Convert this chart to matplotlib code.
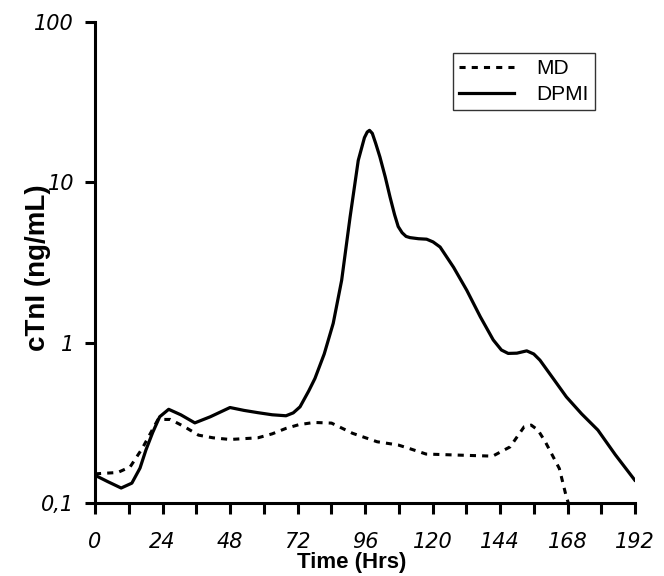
import matplotlib
matplotlib.use("Agg")
import matplotlib.pyplot as plt
from matplotlib.ticker import NullLocator, FixedLocator

# values (hours, ng/mL)
dpmi_hrs = [0, 4.5, 9.3, 13.1, 16, 18.1, 20.5, 23, 26.2, 30.5, 35.5, 41, 48, 53,
            57.9, 63, 67.9, 70.5, 72.9, 76, 78.2, 81.5, 84.7, 87.7, 90.7, 93.6,
            95.8, 96.8, 97.6, 98.6, 99.8, 101.3, 103.2, 104.9, 106.5, 107.8, 109.2,
            110.6, 112, 115, 117.9, 120.2, 122.7, 127.5, 132.2, 137, 141.6, 144.5,
            146.9, 150, 153.5, 156, 158.2, 162.9, 167.6, 173, 178.8, 185, 191.9]
dpmi_val = [0.149, 0.136, 0.124, 0.133, 0.165, 0.214, 0.275, 0.345, 0.384, 0.355,
            0.316, 0.345, 0.394, 0.378, 0.366, 0.355, 0.35, 0.365, 0.398, 0.5,
            0.598, 0.85, 1.32, 2.45, 6.08, 13.7, 19.0, 20.6, 21.1, 20.2, 17.5, 14.4,
            10.8, 8.1, 6.3, 5.3, 4.85, 4.6, 4.52, 4.45, 4.42, 4.25, 3.95, 2.95,
            2.12, 1.45, 1.04, 0.9, 0.857, 0.86, 0.889, 0.85, 0.778, 0.598, 0.459,
            0.36, 0.285, 0.2, 0.139]

md_hrs = [0, 8.1, 12.5, 16.8, 22.4, 26.8, 31.8, 36.8, 42, 48, 57.9, 63, 67.9,
          72.5, 77.9, 84.1, 91.6, 100.3, 107.8, 112, 117.7, 129, 141.4, 147.6,
          150.5, 152.6, 155.1, 157.5, 160.1, 165.1, 167.6, 168.3]
md_val = [0.152, 0.155, 0.168, 0.219, 0.332, 0.332, 0.299, 0.265, 0.255, 0.249,
          0.255, 0.27, 0.292, 0.308, 0.318, 0.315, 0.272, 0.241, 0.23, 0.218,
          0.202, 0.199, 0.196, 0.224, 0.265, 0.299, 0.306, 0.285, 0.241, 0.164,
          0.109, 0.1]

x_ticks = list(range(0, 193, 12))
x_labels = [str(t) if t % 24 == 0 else "" for t in x_ticks]
y_ticks = [0.1, 1, 10, 100]
y_labels = ["0,1", "1", "10", "100"]

fig = plt.figure(figsize=(6.64, 5.76), dpi=100)
ax = fig.add_axes([95/664, 1 - 503/576, 540/664, 481/576])

ax.plot(md_hrs, md_val, color="black", lw=2.2, linestyle=(0, (2.0, 2.0)), label="MD")
ax.plot(dpmi_hrs, dpmi_val, color="black", lw=2.3, label="DPMI")

ax.set_yscale("log")
ax.set_ylim(0.1, 100)
ax.set_xlim(0, 192)

ax.yaxis.set_major_locator(FixedLocator(y_ticks))
ax.yaxis.set_minor_locator(NullLocator())
ax.set_yticklabels(y_labels)
ax.set_xticks(x_ticks)
ax.set_xticklabels(x_labels)

for lab in ax.get_xticklabels() + ax.get_yticklabels():
    lab.set_fontstyle("italic")
    lab.set_fontsize(15)
    lab.set_family("DejaVu Sans")

ax.tick_params(axis="x", direction="out", length=8, width=2.2, pad=13)
ax.tick_params(axis="y", direction="out", length=7, width=2.2, pad=8)

for s in ["top", "right"]:
    ax.spines[s].set_visible(False)
for s in ["left", "bottom"]:
    ax.spines[s].set_linewidth(2.2)

ax.set_ylabel("cTnI (ng/mL)", fontsize=20, fontweight="bold",
              family="Liberation Sans")
ax.yaxis.set_label_coords(-0.106, 0.49)
ax.yaxis.label.set_va("center")

ax.set_xlabel("Time (Hrs)", fontsize=16, fontweight="bold",
              family="Liberation Sans")
ax.xaxis.set_label_coords(0.476, -0.1227)
ax.xaxis.label.set_va("center")

leg = ax.legend(loc="upper left", bbox_to_anchor=(0.663, 0.936), borderaxespad=0,
                frameon=True, fancybox=False, edgecolor="black", handlelength=2.64,
                handletextpad=1.06, borderpad=0.3, labelspacing=0.34,
                prop={"family": "Liberation Sans", "size": 15})
leg.get_frame().set_linewidth(1.0)

fig.savefig("out.png", dpi=100)
